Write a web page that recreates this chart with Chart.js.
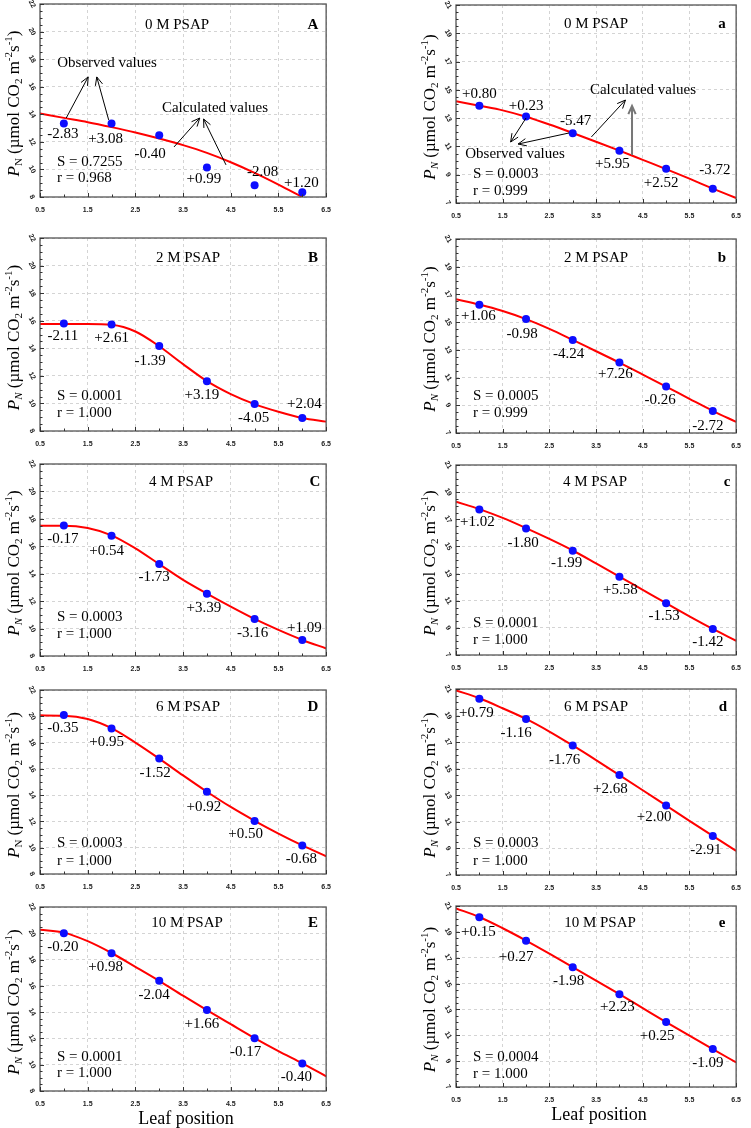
<!DOCTYPE html>
<html><head><meta charset="utf-8">
<script src="https://cdn.jsdelivr.net/npm/chart.js@4.4.1/dist/chart.umd.min.js"></script>
<style>
html,body{margin:0;padding:0;background:#fff;}
body{width:751px;height:1128px;position:relative;overflow:hidden;}
canvas{position:absolute;}
</style></head><body>
<script>
// ---------- data ----------
const xTicks=[0.5,1.5,2.5,3.5,4.5,5.5,6.5];
const leafPos=[1,2,3,4,5,6];
const curveX=[0.5,1,1.5,2,2.5,3,3.5,4,4.5,5,5.5,6,6.5];
const yTicksLeft=[8,10,12,14,16,18,20,22];
const yTicksRight=[7,9,11,13,15,17,19,21];

const obsA=[13.33,13.33,12.48,10.14,8.85,8.34];
const fitA=[14.06,13.74,13.43,13.07,12.68,12.24,11.76,11.20,10.52,9.75,8.90,8.0,null];
const devA=['-2.83','+3.08','-0.40','+0.99','-2.08','+1.20'];

const obsa=[13.87,13.12,11.94,10.69,9.42,8.01];
const fita=[14.2,13.88,13.55,13.1,12.55,11.95,11.33,10.7,10.05,9.4,8.72,8.02,7.35];
const deva=['+0.80','+0.23','-5.47','+5.95','+2.52','-3.72'];

const obsB=[15.79,15.72,14.16,11.6,9.95,8.95];
const fitB=[15.76,15.76,15.76,15.7,15.22,14.15,12.85,11.62,10.68,9.95,9.4,8.95,8.68];
const devB=['-2.11','+2.61','-1.39','+3.19','-4.05','+2.04'];

const obsb=[16.25,15.22,13.72,12.08,10.35,8.59];
const fitb=[16.66,16.27,15.8,15.22,14.52,13.72,12.9,12.08,11.22,10.35,9.47,8.6,7.8];
const devb=['+1.06','-0.98','-4.24','+7.26','-0.26','-2.72'];

const obsC=[17.52,16.77,14.7,12.53,10.7,9.17];
const fitC=[17.5,17.5,17.33,16.8,15.85,14.7,13.55,12.55,11.6,10.7,9.9,9.17,8.55];
const devC=['-0.17','+0.54','-1.73','+3.39','-3.16','+1.09'];

const obsc=[17.73,16.33,14.69,12.77,10.81,8.91];
const fitc=[18.3,17.75,17.1,16.35,15.55,14.7,13.75,12.78,11.8,10.82,9.85,8.92,8.05];
const devc=['+1.02','-1.80','-1.99','+5.58','-1.53','-1.42'];

const obsD=[20.1,19.08,16.78,14.26,12.03,10.16];
const fitD=[20.07,20.05,19.8,19.1,18.0,16.78,15.5,14.26,13.1,12.05,11.08,10.18,9.35];
const devD=['-0.35','+0.95','-1.52','+0.92','+0.50','-0.68'];

const obsd=[20.27,18.74,16.75,14.52,12.23,9.94];
const fitd=[20.9,20.3,19.55,18.75,17.8,16.75,15.65,14.52,13.38,12.23,11.08,9.94,8.82];
const devd=['+0.79','-1.16','-1.76','+2.68','+2.00','-2.91'];

const obsE=[20.01,18.49,16.38,14.16,12.02,10.09];
const fitE=[20.27,20.05,19.4,18.5,17.45,16.38,15.25,14.15,13.08,12.02,11.03,10.1,9.12];
const devE=['-0.20','+0.98','-2.04','+1.66','-0.17','-0.40'];

const obse=[20.13,18.32,16.27,14.18,12.02,9.93];
const fite=[20.82,20.15,19.28,18.33,17.32,16.28,15.23,14.18,13.1,12.02,10.97,9.93,8.9];
const deve=['+0.15','+0.27','-1.98','+2.23','+0.25','-1.09'];

// ---------- layout / style ----------
const SERIF='"Liberation Serif","Times New Roman",serif';
const panels=[
 {col:'L',top:4,bottom:197,obs:obsA,fit:fitA,dev:devA,off:[[-1,11],[-6,16],[-9,19],[-3,12],[8,-13],[-1,-9]],
  title:'0 M PSAP',tdx:137,tdy:21,letter:'A',ldx:273,S:'S = 0.7255',r:'r = 0.968',sdy:-35,rdy:-19,nItal:false,
  notes:[['Observed values',67,59],['Calculated values',175,104]],
  arrows:[[1.05,13.73,1.51,16.71],[1.94,13.59,1.69,16.71],[3.31,11.63,3.85,13.73],[4.40,10.33,3.93,13.66]]},
 {col:'R',top:5,bottom:203,obs:obsa,fit:fita,dev:deva,off:[[0,-12],[0,-10],[3,-12],[-7,13],[-5,14],[2,-19]],
  title:'0 M PSAP',tdx:140,tdy:19,letter:'a',ldx:266,S:'S = 0.0003',r:'r = 0.999',sdy:-29,rdy:-12,nItal:true,
  notes:[['Observed values',59,149],['Calculated values',187,85]],
  arrows:[[2.0,13.01,1.67,11.31],[2.92,11.95,1.83,11.17],[3.40,11.67,4.13,14.28],[4.27,10.39,4.27,13.86,'#777',2]]},
 {col:'L',top:238,bottom:431,obs:obsB,fit:fitB,dev:devB,off:[[-1,12],[0,13],[-9,15],[-5,14],[-1,14],[2,-14]],
  title:'2 M PSAP',tdx:148,tdy:20,letter:'B',ldx:273,S:'S = 0.0001',r:'r = 1.000',sdy:-35,rdy:-18,nItal:true},
 {col:'R',top:239,bottom:433,obs:obsb,fit:fitb,dev:devb,off:[[-1,11],[-4,15],[-4,14],[-4,11],[-6,13],[-5,15]],
  title:'2 M PSAP',tdx:140,tdy:19,letter:'b',ldx:266,S:'S = 0.0005',r:'r = 0.999',sdy:-37,rdy:-20,nItal:true},
 {col:'L',top:464,bottom:656,obs:obsC,fit:fitC,dev:devC,off:[[-1,14],[-5,15],[-5,13],[-3,14],[-2,14],[2,-12]],
  title:'4 M PSAP',tdx:141,tdy:18,letter:'C',ldx:275,S:'S = 0.0003',r:'r = 1.000',sdy:-39,rdy:-22,nItal:true},
 {col:'R',top:465,bottom:655,obs:obsc,fit:fitc,dev:devc,off:[[-2,13],[-3,15],[-6,12],[1,13],[-2,13],[-5,13]],
  title:'4 M PSAP',tdx:139,tdy:17,letter:'c',ldx:271,S:'S = 0.0001',r:'r = 1.000',sdy:-32,rdy:-15,nItal:true},
 {col:'L',top:690,bottom:874,obs:obsD,fit:fitD,dev:devD,off:[[-1,13],[-5,14],[-4,14],[-3,15],[-9,13],[-1,13]],
  title:'6 M PSAP',tdx:148,tdy:17,letter:'D',ldx:273,S:'S = 0.0003',r:'r = 1.000',sdy:-31,rdy:-13,nItal:false},
 {col:'R',top:689,bottom:875,obs:obsd,fit:fitd,dev:devd,off:[[-3,14],[-10,14],[-8,15],[-9,14],[-12,12],[-7,14]],
  title:'6 M PSAP',tdx:140,tdy:18,letter:'d',ldx:267,S:'S = 0.0003',r:'r = 1.000',sdy:-32,rdy:-14,nItal:true},
 {col:'L',top:907,bottom:1091,obs:obsE,fit:fitE,dev:devE,off:[[-1,14],[-6,14],[-5,14],[-5,14],[-9,14],[-6,14]],
  title:'10 M PSAP',tdx:147,tdy:16,letter:'E',ldx:273,S:'S = 0.0001',r:'r = 1.000',sdy:-34,rdy:-18,nItal:true,xTitle:'Leaf position',extra:34},
 {col:'R',top:906,bottom:1087,obs:obse,fit:fite,dev:deve,off:[[-1,15],[-10,16],[-4,14],[-2,13],[-9,14],[-5,14]],
  title:'10 M PSAP',tdx:144,tdy:17,letter:'e',ldx:266,S:'S = 0.0004',r:'r = 1.000',sdy:-30,rdy:-13,nItal:true,xTitle:'Leaf position',extra:38}
];

function drawYTitle(ctx,cx,cy,nItal){
  const segs=[['P',1,0],['N',nItal?1:0,1],[' (\u00b5mol CO',0,0],['2',0,1],[' m',0,0],['-2',0,-1],['s',0,0],['-1',0,-1],[')',0,0]];
  const base=17, small=11;
  const fontOf=s=>(s[1]?'italic ':'')+(s[2]?small:base)+'px '+SERIF;
  let total=0; const w=[];
  segs.forEach(s=>{ctx.font=fontOf(s);const m=ctx.measureText(s[0]).width;w.push(m);total+=m;});
  ctx.save();ctx.translate(cx,cy);ctx.rotate(-Math.PI/2);
  ctx.fillStyle='#000';ctx.textBaseline='alphabetic';ctx.textAlign='left';
  let x=-total/2;
  segs.forEach((s,i)=>{ctx.font=fontOf(s);const dy=s[2]===1?3:(s[2]===-1?-7:0);ctx.fillText(s[0],x,6+dy);x+=w[i];});
  ctx.restore();
}
function arrow(ctx,x1,y1,x2,y2,color,lw){
  ctx.save();ctx.strokeStyle=color||'#000';ctx.lineWidth=lw||1;
  ctx.beginPath();ctx.moveTo(x1,y1);ctx.lineTo(x2,y2);
  const a=Math.atan2(y2-y1,x2-x1),L=9,sp=0.42;
  ctx.moveTo(x2-L*Math.cos(a-sp),y2-L*Math.sin(a-sp));ctx.lineTo(x2,y2);
  ctx.lineTo(x2-L*Math.cos(a+sp),y2-L*Math.sin(a+sp));
  ctx.stroke();ctx.restore();
}

function panelPlugin(p,yT){
  return {id:'deco',afterDatasetsDraw(chart){
    const ctx=chart.ctx,ca=chart.chartArea,xs=chart.scales.x,ys=chart.scales.y;
    ctx.save();
    // frame
    ctx.strokeStyle='#555';ctx.lineWidth=1.3;
    ctx.strokeRect(ca.left,ca.top,ca.right-ca.left,ca.bottom-ca.top);
    // ticks
    ctx.strokeStyle='#333';ctx.lineWidth=1;ctx.beginPath();
    for(let v=yT[0];v<=yT[yT.length-1]+1e-9;v+=0.5){
      const y=Math.round(ys.getPixelForValue(v))+0.5;const maj=yT.includes(v);
      ctx.moveTo(ca.left,y);ctx.lineTo(ca.left+(maj?4:2.5),y);
    }
    for(let v=0.5;v<=6.5+1e-9;v+=0.5){
      const x=Math.round(xs.getPixelForValue(v))+0.5;const maj=xTicks.includes(v);
      ctx.moveTo(x,ca.bottom);ctx.lineTo(x,ca.bottom-(maj?4:2.5));
    }
    ctx.stroke();
    // y tick labels (rotated)
    ctx.fillStyle='#222';ctx.font='bold 7px "Liberation Sans",Arial,sans-serif';
    ctx.textAlign='center';ctx.textBaseline='middle';
    yT.forEach(v=>{const y=ys.getPixelForValue(v);ctx.save();ctx.translate(ca.left-8,y);ctx.rotate(Math.PI/3);ctx.fillText(String(v),0,0);ctx.restore();});
    // deviation labels
    ctx.fillStyle='#000';ctx.font='15px '+SERIF;
    p.dev.forEach((t,i)=>{
      const px=xs.getPixelForValue(leafPos[i])+p.off[i][0];
      const py=ys.getPixelForValue(p.obs[i])+p.off[i][1];
      ctx.fillText(t,px,py);
    });
    // panel title + letter
    ctx.fillText(p.title,ca.left+p.tdx,ca.top+p.tdy);
    ctx.font='bold 15px '+SERIF;ctx.fillText(p.letter,ca.left+p.ldx,ca.top+p.tdy);
    // S and r
    ctx.font='15px '+SERIF;ctx.textAlign='left';
    ctx.fillText(p.S,ca.left+17,ca.bottom+p.sdy);
    ctx.fillText(p.r,ca.left+17,ca.bottom+p.rdy);
    // notes + arrows
    ctx.textAlign='center';
    (p.notes||[]).forEach(n=>ctx.fillText(n[0],ca.left+n[1],ca.top+n[2]));
    (p.arrows||[]).forEach(a=>arrow(ctx,xs.getPixelForValue(a[0]),ys.getPixelForValue(a[1]),xs.getPixelForValue(a[2]),ys.getPixelForValue(a[3]),a[4],a[5]));
    // y title
    drawYTitle(ctx,ca.left-27,(ca.top+ca.bottom)/2+3,p.nItal);
    // x title
    if(p.xTitle){ctx.font='18px '+SERIF;ctx.fillStyle='#000';ctx.textAlign='center';ctx.textBaseline='middle';
      ctx.fillText(p.xTitle,(ca.left+ca.right)/2+3,ca.bottom+28);}
    ctx.restore();
  }};
}

function makePanel(p){
  const L=p.col==='L';
  const left=L?0:416,width=L?340:334,padR=L?8:6,padTop=8,xH=24,extra=p.extra||0;
  const h=(p.bottom-p.top)+padTop+xH+extra;
  const cv=document.createElement('canvas');
  cv.style.left=left+'px';cv.style.top=(p.top-padTop)+'px';
  cv.width=width;cv.height=h;cv.style.width=width+'px';cv.style.height=h+'px';
  document.body.appendChild(cv);
  const yT=L?yTicksLeft:yTicksRight;
  const gridOpt={color:'#d4d4d4',lineWidth:1,drawTicks:false};
  new Chart(cv,{type:'scatter',
    data:{datasets:[
      {data:leafPos.map((x,i)=>({x:x,y:p.obs[i]})),pointRadius:4,pointBackgroundColor:'#0d0dff',pointBorderWidth:0,showLine:false},
      {data:curveX.map((x,i)=>({x:x,y:p.fit[i]})),showLine:true,pointRadius:0,borderColor:'#ff0000',borderWidth:2,cubicInterpolationMode:'monotone',spanGaps:false}
    ]},
    options:{responsive:false,animation:false,devicePixelRatio:1,events:[],
      plugins:{legend:{display:false},tooltip:{enabled:false}},
      layout:{padding:{top:padTop,right:padR,left:0,bottom:extra}},
      scales:{
        x:{type:'linear',min:0.5,max:6.5,
          afterBuildTicks:s=>{s.ticks=xTicks.map(v=>({value:v}));},
          afterFit:s=>{s.height=xH;},
          grid:gridOpt,border:{display:false,dash:[3,3]},
          ticks:{padding:9,autoSkip:false,maxRotation:0,color:'#222',font:{family:'"Liberation Sans",Arial,sans-serif',size:7,weight:'bold'},callback:v=>Number(v).toFixed(1)}},
        y:{type:'linear',min:yT[0],max:yT[yT.length-1],
          afterBuildTicks:s=>{s.ticks=yT.map(v=>({value:v}));},
          afterFit:s=>{s.width=40;},
          grid:gridOpt,border:{display:false,dash:[3,3]},
          ticks:{display:false}}
      }},
    plugins:[panelPlugin(p,yT)]});
}
panels.forEach(makePanel);
</script>
</body></html>
